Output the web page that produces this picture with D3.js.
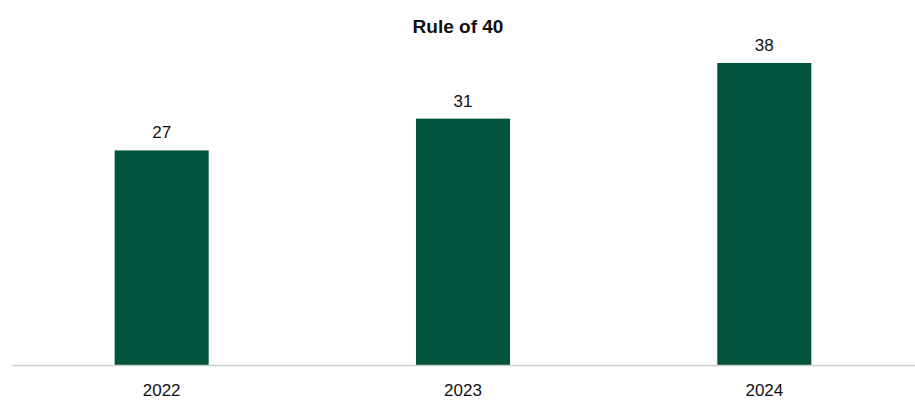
<!DOCTYPE html>
<html>
<head>
<meta charset="utf-8">
<script src="https://cdn.jsdelivr.net/npm/d3@7"></script>
<style>
  body { margin: 0; background: #fff; }
  text { font-family: "Liberation Sans", Arial, sans-serif; fill: #111; }
</style>
</head>
<body>
<div id="chart"></div>
<script>
// Dados do gráfico
const years = ["2022", "2023", "2024"];
const values = [27, 31, 38];

const width = 915;
const height = 410;
const margin = { top: 63, right: 0, bottom: 45, left: 11 };

const svg = d3.select("#chart")
    .append("svg")
    .attr("width", width)
    .attr("height", height);

const x = d3.scaleBand()
    .domain(years)
    .range([margin.left, width - margin.right])
    .paddingInner(0.688)
    .paddingOuter(0.344);

const y = d3.scaleLinear()
    .domain([0, 38])
    .range([height - margin.bottom, margin.top]);

// Título
svg.append("text")
    .attr("x", 458)
    .attr("y", 32.5)
    .attr("text-anchor", "middle")
    .style("font-size", "19px")
    .style("font-weight", "bold")
    .text("Rule of 40");

// Barras
svg.append("g")
    .selectAll("rect")
    .data(values)
    .join("rect")
    .attr("x", (d, i) => x(years[i]))
    .attr("y", d => y(d))
    .attr("width", x.bandwidth())
    .attr("height", d => y(0) - y(d))
    .attr("fill", "#02533c");

// Rótulos de valor
svg.append("g")
    .selectAll("text")
    .data(values)
    .join("text")
    .attr("x", (d, i) => x(years[i]) + x.bandwidth() / 2)
    .attr("y", d => y(d) - 12)
    .attr("text-anchor", "middle")
    .style("font-size", "17px")
    .text(d => d);

// Eixo X
const xAxis = svg.append("g")
    .attr("transform", `translate(0,${y(0)})`)
    .call(d3.axisBottom(x).tickSize(0).tickPadding(19));

xAxis.select(".domain")
    .attr("stroke", "#d0d0d0")
    .attr("stroke-width", 1.5);

xAxis.selectAll("text")
    .style("font-size", "17px")
    .style("font-family", "'Liberation Sans', Arial, sans-serif")
    .attr("fill", "#111");
</script>
</body>
</html>
